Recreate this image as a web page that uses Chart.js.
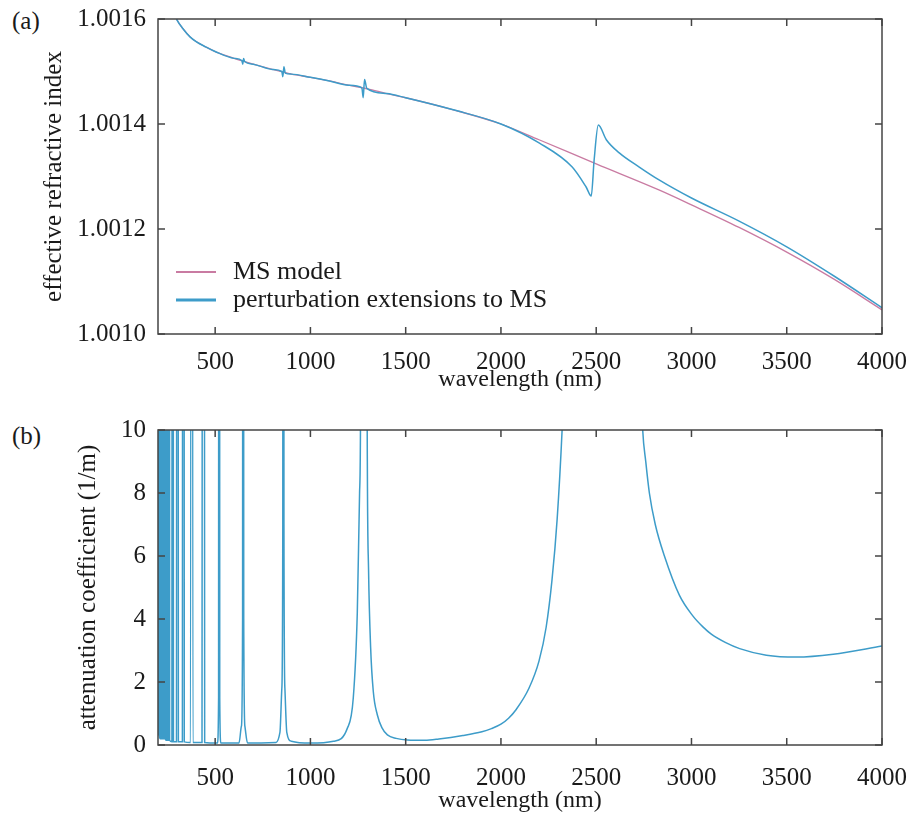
<!DOCTYPE html>
<html>
<head>
<meta charset="utf-8">
<script src="https://cdn.jsdelivr.net/npm/chart.js@4/dist/chart.umd.min.js"></script>
<style>
  html, body { margin: 0; padding: 0; background: #fff; }
  body { width: 913px; height: 821px; position: relative; overflow: hidden; font-family: 'Liberation Serif', serif; }
  .panel { position: absolute; left: 0; width: 913px; }
  .tag { position: absolute; left: 12px; font-size: 25px; color: #1a1a1a; line-height: 1; }
</style>
</head>
<body>
<div class="tag" style="top:8px">(a)</div>
<div class="tag" style="top:423px">(b)</div>
<div class="panel" style="top:0;height:400px"><canvas id="top"></canvas></div>
<div class="panel" style="top:400px;height:421px"><canvas id="bot"></canvas></div>
<script>
// wavelength ticks shared by both panels
const wlTicks = [500, 1000, 1500, 2000, 2500, 3000, 3500, 4000];
const nTicks = [1.0010, 1.0012, 1.0014, 1.0016];
const attTicks = [0, 2, 4, 6, 8, 10];

// (a) MS model
const msWl = [280, 300, 330, 368, 400, 450, 500, 600, 700, 800, 900, 1000, 1100, 1200, 1300, 1400, 1500, 1750,
  2000, 2200, 2500, 2832, 3000, 3250, 3500, 3750, 4000];
const msN = [1.001615, 1.001598, 1.001582, 1.001566, 1.001557, 1.001547, 1.001538, 1.001525, 1.001514, 1.001504,
  1.001495, 1.001489, 1.001482, 1.001474, 1.001467, 1.001458, 1.00145, 1.001427,
  1.0014, 1.00137, 1.001324, 1.001274, 1.001246, 1.001203, 1.001156, 1.001104, 1.001046];

// (a) perturbation extensions to MS
const ptWl = [280, 300, 330, 368, 400, 450, 500, 600, 640, 645, 649, 655, 700, 800, 850, 855, 861, 868, 900,
  1000, 1100, 1200, 1270, 1277, 1284, 1296, 1400, 1500, 1750,
  2000, 2200, 2374, 2447, 2474, 2489, 2511, 2553, 2621, 2726, 2832, 3000, 3250, 3500, 3750, 4000];
const ptN = [1.001615, 1.001598, 1.001582, 1.001566, 1.001557, 1.001547, 1.001538, 1.001525, 1.001521, 1.001514,
  1.001525, 1.001519, 1.001514, 1.001504, 1.0015, 1.00149, 1.001509, 1.001497, 1.001495,
  1.001489, 1.001482, 1.001474, 1.001469, 1.00145, 1.001485, 1.001468, 1.001458, 1.00145, 1.001427,
  1.0014, 1.001364, 1.001318, 1.00128, 1.001263, 1.001331, 1.001398, 1.00137, 1.001345, 1.001318, 1.001293,
  1.001259, 1.001215, 1.001166, 1.00111, 1.00105];

// (b) attenuation coefficient
const attWl = [200, 203, 205, 207, 212, 214, 216, 222, 225, 228, 232, 235, 238, 243, 246, 249, 255, 258, 261,
  273, 277, 281, 297, 302, 307, 328, 333, 338, 371, 377, 383, 431, 438, 445, 512, 518, 521, 524, 530,
  625, 638, 644, 647, 650, 656, 670, 820, 840, 850, 855, 858, 861, 866, 876, 900, 1000,
  1121, 1193, 1225, 1246, 1258, 1263, 1280, 1298, 1305, 1316, 1330, 1351, 1375, 1404, 1450, 1509, 1600, 1674,
  1800, 1900, 1950, 2000, 2040, 2079, 2147, 2200, 2237, 2268, 2295, 2321, 2360, 2450, 2530, 2650, 2720,
  2744, 2760, 2779, 2810, 2858, 2937, 3007, 3060, 3104, 3180, 3253, 3393, 3551, 3744, 4000];
const attVal = [80, 0.3, 80, 0.3, 0.2, 80, 0.2, 0.2, 80, 0.2, 0.2, 80, 0.2, 0.15, 80, 0.15, 0.15, 80, 0.15,
  0.1, 80, 0.1, 0.1, 80, 0.1, 0.1, 80, 0.1, 0.08, 80, 0.08, 0.08, 80, 0.08, 0.06, 1.5, 80, 1.5, 0.06,
  0.06, 0.6, 4, 80, 4, 0.6, 0.06, 0.08, 0.4, 1.8, 7, 80, 7, 1.8, 0.4, 0.12, 0.06,
  0.12, 0.52, 1.5, 4.2, 8, 10.5, 80, 10.2, 5.6, 3.1, 1.7, 0.96, 0.55, 0.32, 0.21, 0.16, 0.15, 0.19,
  0.3, 0.42, 0.52, 0.66, 0.85, 1.12, 1.8, 2.67, 3.73, 5.24, 7.17, 10, 16, 40, 80, 40, 14,
  10, 9, 8, 7, 6, 4.75, 4.1, 3.75, 3.52, 3.25, 3.06, 2.85, 2.79, 2.88, 3.14];

const FONT = 'Liberation Serif';
const INK = '#1a1a1a';
const BLUE = '#3d9cc9';
const PINK = '#c97ba2';

const pts = (xs, ys) => xs.map((x, i) => ({ x, y: ys[i] }));

// box round the plot with inward ticks on all four sides
const frameTicks = {
  id: 'frameTicks',
  afterDatasetsDraw(chart) {
    const { ctx, chartArea: a, scales: { x, y } } = chart;
    ctx.save();
    ctx.strokeStyle = '#444';
    ctx.lineWidth = 1.5;
    ctx.strokeRect(a.left, a.top, a.right - a.left, a.bottom - a.top);
    ctx.beginPath();
    x.ticks.forEach(t => {
      const p = x.getPixelForValue(t.value);
      ctx.moveTo(p, a.bottom); ctx.lineTo(p, a.bottom - 7);
      ctx.moveTo(p, a.top); ctx.lineTo(p, a.top + 7);
    });
    y.ticks.forEach(t => {
      const p = y.getPixelForValue(t.value);
      ctx.moveTo(a.left, p); ctx.lineTo(a.left + 7, p);
      ctx.moveTo(a.right, p); ctx.lineTo(a.right - 7, p);
    });
    ctx.stroke();
    ctx.restore();
  }
};

// legend in the lower left corner of panel (a)
const cornerLegend = {
  id: 'cornerLegend',
  afterDraw(chart) {
    const { ctx } = chart;
    const rows = [272, 300];
    ctx.save();
    ctx.font = '26px "' + FONT + '"';
    ctx.fillStyle = INK;
    ctx.textBaseline = 'middle';
    chart.data.datasets.forEach((ds, i) => {
      const yy = rows[i];
      ctx.strokeStyle = ds.borderColor;
      ctx.lineWidth = i === 0 ? 2 : 3;
      ctx.beginPath(); ctx.moveTo(176, yy); ctx.lineTo(216, yy); ctx.stroke();
      ctx.fillText(ds.label, 233, yy);
    });
    ctx.restore();
  }
};

function xAxis(height, labelPad, titlePad) {
  return {
    type: 'linear', min: 200, max: 4000,
    afterBuildTicks: s => { s.ticks = wlTicks.map(v => ({ value: v })); },
    afterFit: s => { s.height = height; s.paddingLeft = 0; s.paddingRight = 0; },
    grid: { display: false, drawTicks: false },
    border: { display: false },
    ticks: { autoSkip: false, maxRotation: 0, padding: labelPad, color: INK,
      font: { family: FONT, size: 25 }, callback: v => String(v) },
    title: { display: true, text: 'wavelength (nm)', color: INK, padding: { top: 0, bottom: titlePad },
      font: { family: FONT, size: 24, lineHeight: 1 } },
  };
}

function yAxis(min, max, vals, fmt, title, titlePad) {
  return {
    type: 'linear', min, max,
    afterBuildTicks: s => { s.ticks = vals.map(v => ({ value: v })); },
    afterFit: s => { s.width = 158; s.paddingTop = 0; s.paddingBottom = 0; },
    grid: { display: false, drawTicks: false },
    border: { display: false },
    ticks: { padding: 12, color: INK, font: { family: FONT, size: 25 }, callback: fmt },
    title: { display: true, text: title, color: INK, padding: { top: titlePad, bottom: 0 },
      font: { family: FONT, size: 25, lineHeight: 1 } },
  };
}

const common = {
  responsive: true,
  maintainAspectRatio: false,
  animation: false,
  plugins: { legend: { display: false }, tooltip: { enabled: false } },
  elements: { point: { radius: 0 }, line: { cubicInterpolationMode: 'monotone' } },
};

new Chart(document.getElementById('top').getContext('2d'), {
  type: 'line',
  data: {
    datasets: [
      { label: 'MS model', data: pts(msWl, msN), borderColor: PINK, borderWidth: 1.3, order: 1 },
      { label: 'perturbation extensions to MS', data: pts(ptWl, ptN), borderColor: BLUE, borderWidth: 1.5, order: 0 },
    ],
  },
  options: {
    ...common,
    layout: { padding: { top: 19, right: 31, left: 0, bottom: 0 } },
    scales: {
      x: xAxis(66, 13, 8),
      y: yAxis(1.0010, 1.0016, nTicks, v => Number(v).toFixed(4), 'effective refractive index', 42),
    },
  },
  plugins: [frameTicks, cornerLegend],
});

new Chart(document.getElementById('bot').getContext('2d'), {
  type: 'line',
  data: {
    datasets: [
      { label: 'attenuation', data: pts(attWl, attVal), borderColor: BLUE, borderWidth: 1.5 },
    ],
  },
  options: {
    ...common,
    layout: { padding: { top: 30, right: 31, left: 0, bottom: 0 } },
    scales: {
      x: xAxis(76, 18, 8),
      y: yAxis(0, 10, attTicks, v => String(v), 'attenuation coefficient (1/m)', 76),
    },
  },
  plugins: [frameTicks],
});
</script>
</body>
</html>
